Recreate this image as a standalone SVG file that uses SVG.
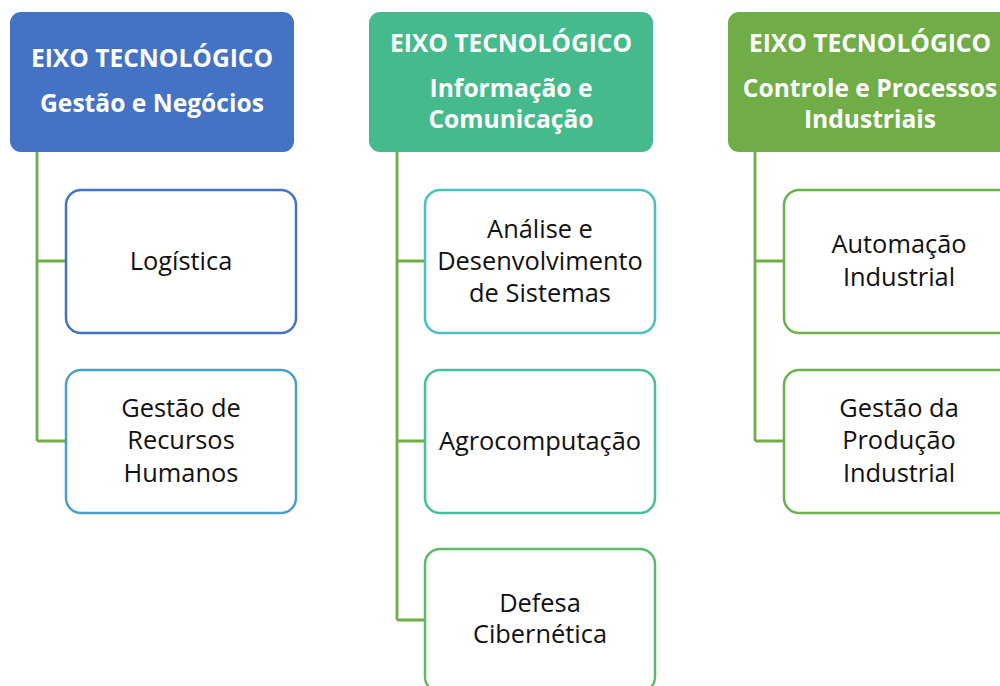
<svg xmlns="http://www.w3.org/2000/svg" width="1000" height="686" viewBox="0 0 1000 686">
<style>
.hdr{stroke:none}
.ht{font-family:"Open Sans","Liberation Sans",sans-serif;font-weight:bold;font-size:24.6px;fill:#fff;text-anchor:middle}
.box{fill:#fff;stroke-width:2.5}
.bt{font-family:"Open Sans","Liberation Sans",sans-serif;font-size:25.4px;fill:#111;text-anchor:middle}
.con{fill:none;stroke:#70AD47;stroke-width:2.8}
</style>
<rect width="1000" height="686" fill="#fff"/>
<g id="connectors">
<path class="con" d="M37 152 V441 M37 261 H66 M37 441 H66"/>
<path class="con" d="M397 152 V620 M397 261 H425 M397 441 H425 M397 620 H425"/>
<path class="con" d="M755 152 V441 M755 261 H784 M755 441 H784"/>
</g>
<g id="h1">
<rect class="hdr" x="10" y="12" width="284" height="140" rx="11" fill="#4472C4"/>
<text class="ht" x="152" y="67">EIXO TECNOLÓGICO</text>
<text class="ht" x="152" y="112">Gestão e Negócios</text>
</g>
<g id="h2">
<rect class="hdr" x="369" y="12" width="284" height="140" rx="11" fill="#45BA8C"/>
<text class="ht" x="511" y="52">EIXO TECNOLÓGICO</text>
<text class="ht" x="511" y="97">Informação e</text>
<text class="ht" x="511" y="128">Comunicação</text>
</g>
<g id="h3">
<rect class="hdr" x="728" y="12" width="284" height="140" rx="11" fill="#70AD47"/>
<text class="ht" x="870" y="52">EIXO TECNOLÓGICO</text>
<text class="ht" x="870" y="97">Controle e Processos</text>
<text class="ht" x="870" y="128">Industriais</text>
</g>
<g id="n1">
<rect class="box" x="66" y="190" width="230" height="143" rx="15" stroke="#4472C4"/>
<text class="bt" x="181" y="270">Logística</text>
</g>
<g id="n2">
<rect class="box" x="66" y="370" width="230" height="143" rx="15" stroke="#4AA0C8"/>
<text class="bt" x="181" y="417">Gestão de</text>
<text class="bt" x="181" y="449">Recursos</text>
<text class="bt" x="181" y="482">Humanos</text>
</g>
<g id="n3">
<rect class="box" x="425" y="190" width="230" height="143" rx="15" stroke="#4BC0BE"/>
<text class="bt" x="540" y="238">Análise e</text>
<text class="bt" x="540" y="270">Desenvolvimento</text>
<text class="bt" x="540" y="302">de Sistemas</text>
</g>
<g id="n4">
<rect class="box" x="425" y="370" width="230" height="143" rx="15" stroke="#47BE9C"/>
<text class="bt" x="540" y="450">Agrocomputação</text>
</g>
<g id="n5">
<rect class="box" x="425" y="549" width="230" height="143" rx="15" stroke="#5CBB66"/>
<text class="bt" x="540" y="612">Defesa</text>
<text class="bt" x="540" y="643">Cibernética</text>
</g>
<g id="n6">
<rect class="box" x="784" y="190" width="230" height="143" rx="15" stroke="#6AB34C"/>
<text class="bt" x="899" y="253">Automação</text>
<text class="bt" x="899" y="286">Industrial</text>
</g>
<g id="n7">
<rect class="box" x="784" y="370" width="230" height="143" rx="15" stroke="#6AB34C"/>
<text class="bt" x="899" y="417">Gestão da</text>
<text class="bt" x="899" y="449">Produção</text>
<text class="bt" x="899" y="482">Industrial</text>
</g>
</svg>
